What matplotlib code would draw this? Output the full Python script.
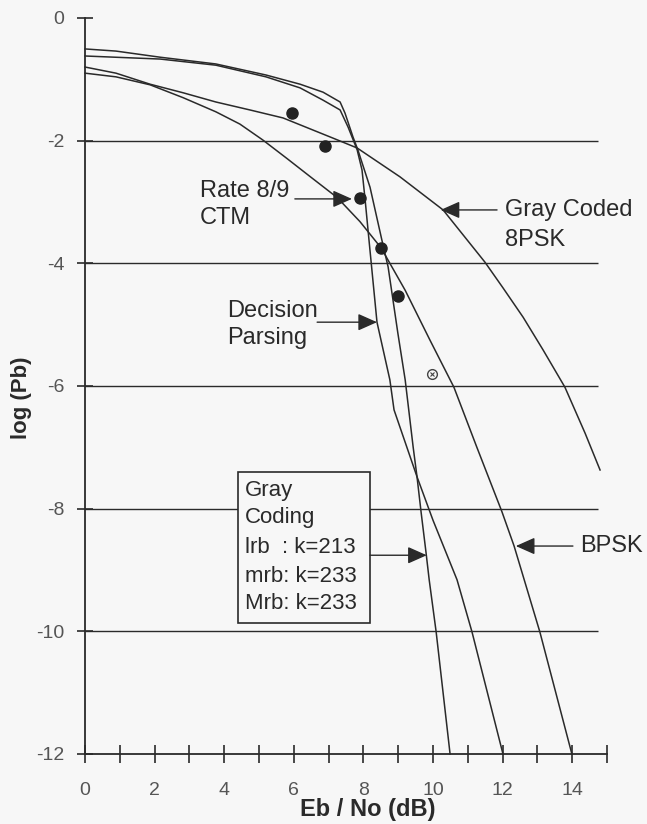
import matplotlib
matplotlib.use('Agg')
import matplotlib.pyplot as plt
from matplotlib.patches import Rectangle

plt.rcParams['font.family'] = ['Liberation Sans', 'DejaVu Sans']

# Eb/No (dB) vs log10 of bit error probability, read point by point
bpsk_x = [0, 0.89, 1.87, 2.82, 3.76, 4.45, 5.11, 5.80, 6.50, 7.25, 7.90, 8.51,
          9.20, 9.91, 10.60, 11.26, 11.98, 12.33, 13.07, 13.99]
bpsk_y = [-0.90, -0.96, -1.09, -1.30, -1.53, -1.73, -1.99, -2.29, -2.60, -2.93,
          -3.32, -3.75, -4.44, -5.25, -6.02, -7.00, -8.05, -8.61, -10.01, -12.0]

psk8_x = [0, 0.89, 1.87, 2.82, 3.76, 4.74, 5.69, 7.13, 7.82, 9.05, 10.29,
          11.49, 12.01, 12.59, 13.16, 13.79, 14.37, 14.80]
psk8_y = [-0.80, -0.90, -1.08, -1.22, -1.37, -1.50, -1.63, -1.96, -2.12, -2.59,
          -3.13, -3.98, -4.40, -4.88, -5.41, -6.02, -6.77, -7.37]

parsing_x = [0, 2.16, 3.76, 5.20, 6.18, 6.84, 7.33, 7.56, 7.82, 7.96, 8.05, 8.16,
             8.39, 8.76, 8.88, 9.54, 10.00, 10.69, 11.12, 12.01]
parsing_y = [-0.62, -0.67, -0.77, -0.96, -1.14, -1.34, -1.50, -1.78, -2.15, -2.48,
             -2.97, -3.62, -4.96, -5.90, -6.39, -7.48, -8.19, -9.16, -10.01, -12.0]

gray_x = [0, 0.89, 2.16, 3.76, 5.20, 6.18, 6.84, 7.33, 7.47, 7.70, 7.84, 8.19,
          8.53, 8.71, 8.99, 9.20, 9.43, 9.54, 9.66, 9.80, 9.89, 10.09, 10.49]
gray_y = [-0.505, -0.54, -0.64, -0.75, -0.93, -1.08, -1.21, -1.37, -1.55, -1.94,
          -2.15, -2.76, -3.62, -4.06, -5.14, -5.90, -7.00, -7.48, -8.07, -8.72,
          -9.16, -10.01, -12.0]

# rate 8/9 CTM simulation points (last one is the open/crossed marker)
ctm_x = [5.95, 6.90, 7.90, 8.51, 8.99]
ctm_y = [-1.55, -2.09, -2.93, -3.75, -4.53]
ctm_open_x = [9.97]
ctm_open_y = [-5.80]

grid_levels = [-2, -4, -6, -8, -10]
xtick_vals = list(range(16))
xtick_text = [str(v) if v % 2 == 0 and v < 15 else '' for v in xtick_vals]
ytick_vals = [0, -2, -4, -6, -8, -10, -12]
ytick_text = ['0', '-2', '-4', '-6', '-8', '-10', '-12']

bg = '#f7f7f7'
ink = '#2a2a2a'

fig = plt.figure(figsize=(6.47, 8.24), dpi=100, facecolor=bg)
ax = fig.add_axes([0.1314, 0.0850, 0.8068, 0.8932], facecolor=bg)
ax.set_xlim(0, 15)
ax.set_ylim(-12, 0)

ax.hlines(grid_levels, 0, 14.75, color=ink, lw=1.0, zorder=1)

for xs, ys in [(bpsk_x, bpsk_y), (psk8_x, psk8_y), (parsing_x, parsing_y), (gray_x, gray_y)]:
    ax.plot(xs, ys, color=ink, lw=1.1, zorder=3, clip_on=False)

ax.plot(ctm_x, ctm_y, 'o', color='#222222', ms=8, zorder=4)
ax.plot(ctm_open_x, ctm_open_y, 'o', mfc='none', mec='#444444', mew=1.0, ms=7, zorder=4)
ax.plot(ctm_open_x, ctm_open_y, 'x', color='#444444', mew=0.8, ms=3.5, zorder=4)

for s in ['top', 'right']:
    ax.spines[s].set_visible(False)
for s in ['left', 'bottom']:
    ax.spines[s].set_linewidth(1.3)
    ax.spines[s].set_color(ink)

ax.set_xticks(xtick_vals)
ax.set_xticklabels(xtick_text)
ax.set_yticks(ytick_vals)
ax.set_yticklabels(ytick_text)
ax.tick_params(axis='x', direction='inout', length=13, width=1.2, color=ink,
               labelsize=14, labelcolor='#555555', pad=14)
ax.tick_params(axis='y', direction='inout', length=12, width=1.2, color=ink,
               labelsize=14, labelcolor='#555555', pad=9)

ax.set_xlabel('Eb / No (dB)', fontsize=17, fontweight='bold', color=ink, va='center')
ax.xaxis.set_label_coords(0.542, -0.076)
ax.set_ylabel('log (Pb)', fontsize=16, fontweight='bold', color=ink, va='center')
ax.yaxis.set_label_coords(-0.1226, 0.484)

arrow = dict(arrowstyle='-|>,head_length=0.9,head_width=0.4', color=ink, lw=1.0,
             shrinkA=0, shrinkB=0, mutation_scale=13)

def pointer(x0, x1, y):
    ax.annotate('', xy=(x1, y), xytext=(x0, y), arrowprops=arrow, zorder=5)

tkw = dict(fontsize=17, color=ink, va='center', ha='left')

ax.text(3.30, -2.82, 'Rate 8/9', **tkw)
ax.text(3.30, -3.26, 'CTM', **tkw)
pointer(6.03, 7.67, -2.95)

ax.text(4.08, -4.78, 'Decision', **tkw)
ax.text(4.08, -5.22, 'Parsing', **tkw)
pointer(6.67, 8.39, -4.96)

ax.text(12.07, -3.13, 'Gray Coded', **tkw)
ax.text(12.07, -3.62, '8PSK', **tkw)
pointer(11.84, 10.22, -3.13)

ax.text(14.22, -8.61, 'BPSK', **tkw)
pointer(14.02, 12.38, -8.61)

box = Rectangle((4.40, -9.86), 3.79, 2.46, facecolor=bg, edgecolor=ink, lw=1.2, zorder=2)
ax.add_patch(box)
bkw = dict(fontsize=16, color=ink, va='center', ha='left', zorder=3)
for yy, line in zip([-7.70, -8.15, -8.64, -9.11, -9.54],
                    ['Gray', 'Coding', 'lrb  : k=213', 'mrb: k=233', 'Mrb: k=233']):
    ax.text(4.60, yy, line, **bkw)
pointer(8.19, 9.82, -8.76)

plt.savefig('out.png', dpi=100, facecolor=bg)
